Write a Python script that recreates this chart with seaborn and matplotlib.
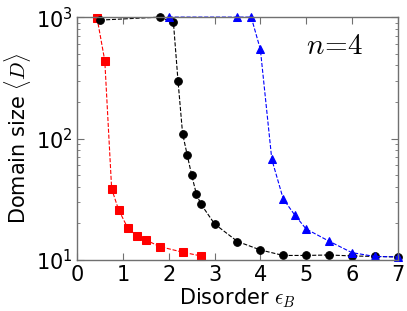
import seaborn as sns
import matplotlib.pyplot as plt

# red squares
red_x = [0.43, 0.6, 0.75, 0.9, 1.1, 1.3, 1.5, 1.8, 2.3, 2.7]
red_y = [990, 437, 38.6, 26, 18.4, 15.8, 14.6, 12.9, 11.6, 10.8]

# black circles
black_x = [0.5, 1.8, 2.1, 2.2, 2.3, 2.4, 2.5, 2.6, 2.7, 3.0, 3.5, 4.0, 4.5, 5.0, 5.5, 6.0, 6.5, 7.0]
black_y = [945, 1000, 904, 299, 110, 73.6, 49.8, 35.1, 28.9, 19.8, 14.2, 12.1, 10.9, 10.9, 11.0, 10.8, 10.7, 10.6]

# blue triangles
blue_x = [2.0, 3.5, 3.8, 4.0, 4.25, 4.5, 4.75, 5.0, 5.5, 6.0, 6.5, 7.0]
blue_y = [1000, 1000, 1000, 542, 67.4, 31.8, 23.5, 18.0, 14.3, 11.5, 10.7, 10.6]

sns.set_style("ticks")
plt.rcParams['mathtext.fontset'] = 'cm'
plt.rcParams['font.family'] = ['DejaVu Sans']
plt.rcParams['text.color'] = 'black'
plt.rcParams['axes.labelcolor'] = 'black'

fig = plt.figure(figsize=(4.07, 3.11), dpi=100)
ax = fig.add_axes([0.19, 0.164, 0.787, 0.781])

series = [
    (red_x, red_y, 'red', 's', 5.5),
    (black_x, black_y, 'black', 'o', 5.5),
    (blue_x, blue_y, 'blue', '^', 5.5),
]
for xs, ys, col, mk, ms in series:
    sns.lineplot(x=xs, y=ys, ax=ax, color=col, marker=mk, markersize=ms,
                 markeredgecolor=col, linestyle='--', linewidth=0.8,
                 estimator=None, sort=False, clip_on=False)

ax.set_yscale('log')
ax.set_xlim(0, 7)
ax.set_ylim(10, 1000)
ax.set_xticks(range(8))

ax.tick_params(which='both', direction='in', top=True, right=True, labelsize=15,
               labelcolor='black', color='#707070')
ax.tick_params(which='major', length=5)
ax.tick_params(which='minor', length=2.5)
for sp in ax.spines.values():
    sp.set_color('#707070')
    sp.set_linewidth(1.0)

ax.set_xlabel(r'Disorder $\epsilon_B$', fontsize=15, labelpad=1, color='black')
ax.set_ylabel(r'Domain size $\langle D\rangle$', fontsize=15, labelpad=2, color='black')
ax.text(0.714, 0.85, r'$n\!=\!4$', transform=ax.transAxes, fontsize=21, color='black')

plt.savefig('out.png', dpi=100)
